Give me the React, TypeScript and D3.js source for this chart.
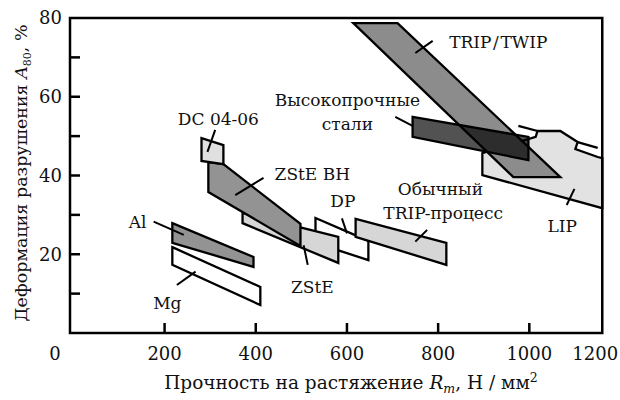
import * as d3 from 'd3';

const W = 620;
const H = 400;
const FONT = '"DejaVu Serif", serif';

// region outlines: [tensile strength Rm, N/mm2; elongation A80, %]
const lip = [[897, 45.7], [1014, 49.8], [1018, 51.3], [1068, 51.3], [1106, 48.5], [1101, 46.7], [1150, 44.7], [1160, 44.4], [1160, 31.7], [897, 40.1]];
const tripTwip = [[614, 78.7], [711, 78.7], [1068, 39.6], [965, 39.6]];
const highStrength = [[744, 54.9], [998, 49.8], [998, 43.9], [744, 49.8]];
const dp = [[531, 29.2], [647, 23.4], [647, 18.5], [531, 22.9]];
const tripProcess = [[619, 29.0], [818, 22.9], [818, 17.3], [619, 24.4]];
const zste = [[371, 30.5], [581, 24.4], [581, 17.8], [371, 27.9]];
const zsteBH = [[296, 43.4], [329, 42.9], [498, 27.7], [498, 22.1], [296, 35.8]];
const dc0406 = [[281, 49.5], [329, 47.7], [329, 42.9], [281, 43.7]];
const al = [[217, 27.9], [395, 19.3], [395, 16.8], [217, 22.9]];
const mg = [[217, 21.8], [410, 11.7], [410, 7.1], [217, 17.3]];

// extra outline strokes on the LIP field
const lipLines = [
  [[976, 52.6], [1018, 51.3]],
  [[1106, 48.5], [1150, 47.0]],
];

const xTicks = [200, 400, 600, 800, 1000];
const xTickLabels = ['0', '200', '400', '600', '800', '1000', '1200'];
const yTicks = [10, 20, 30, 40, 50, 60, 70];
const yTickLabels = ['20', '40', '60', '80'];

// labels: text, anchor [Rm, A80]
const labels = [
  { text: 'TRIP\u200A/\u200ATWIP', at: [932, 72.3] },
  { text: 'Высокопрочные', at: [601, 57.7] },
  { text: 'стали', at: [601, 51.6] },
  { text: 'DC 04-06', at: [318, 52.8] },
  { text: 'ZStE BH', at: [524, 38.9] },
  { text: 'DP', at: [591, 32.0] },
  { text: 'Обычный', at: [805, 35.0] },
  { text: 'TRIP-процесс', at: [811, 29.0] },
  { text: 'LIP', at: [1072, 25.7] },
  { text: 'Al', at: [141, 26.7] },
  { text: 'Mg', at: [206, 6.1] },
  { text: 'ZStE', at: [524, 10.2] },
];
const leaders = [
  [[750, 71.1], [788, 74.2]],
  [[706, 54.9], [744, 52.6]],
  [[311, 51.6], [294, 46.0]],
  [[417, 39.4], [355, 35.0]],
  [[589, 29.1], [600, 25.3]],
  [[776, 26.2], [750, 23.2]],
  [[1099, 36.6], [1082, 32.5]],
  [[176, 28.3], [242, 24.9]],
  [[227, 12.2], [268, 15.6]],
  [[505, 22.3], [514, 17.3]],
];

const regions = [
  { pts: lip, fill: '#e2e2e2', op: 1 },
  { pts: tripTwip, fill: '#8c8c8c', op: 1 },
  { pts: highStrength, fill: '#000', op: 0.68 },
  { pts: dp, fill: '#fff', op: 1 },
  { pts: tripProcess, fill: '#d6d6d6', op: 1 },
  { pts: zste, fill: '#d6d6d6', op: 1 },
  { pts: zsteBH, fill: '#939393', op: 1 },
  { pts: dc0406, fill: '#e0e0e0', op: 1 },
  { pts: al, fill: '#939393', op: 1 },
  { pts: mg, fill: '#fff', op: 1 },
];

export default function App() {
  const x = d3.scaleLinear().domain([0, 1200]).range([73.4, 620.5]);
  const y = d3.scaleLinear().domain([0, 80]).range([333, 18]);
  const left = 70;
  const right = x(1160);
  const top = y(80);
  const bottom = y(0);

  const poly = d3
    .line<number[]>()
    .x(d => x(d[0]))
    .y(d => y(d[1]))
    .curve(d3.curveLinearClosed);
  const seg = d3
    .line<number[]>()
    .x(d => x(d[0]))
    .y(d => y(d[1]));

  // corner labels sit off their ticks, as in the original
  const xLabelPos = (t: string, i: number) => {
    if (i === 0) return left - 15;
    if (i === xTickLabels.length - 1) return right - 7;
    return x(+t);
  };

  return (
    <svg width={W} height={H} style={{ position: 'absolute', left: 0, top: 0, background: '#fff' }} fontFamily={FONT}>
      <rect width={W} height={H} fill="#fff" />
      {regions.map((r, i) => (
        <path
          key={i}
          d={poly(r.pts) || ''}
          fill={r.fill}
          fillOpacity={r.op}
          stroke="#000"
          strokeWidth={2.3}
          strokeLinejoin="miter"
        />
      ))}
      {lipLines.map((l, i) => (
        <path key={i} d={seg(l) || ''} fill="none" stroke="#000" strokeWidth={2.3} />
      ))}
      {leaders.map((l, i) => (
        <path key={i} d={seg(l) || ''} fill="none" stroke="#000" strokeWidth={2} />
      ))}
      {labels.map((lb, i) => (
        <text key={i} x={x(lb.at[0])} y={y(lb.at[1])} textAnchor="middle" fontSize={17} fill="#111">
          {lb.text}
        </text>
      ))}

      <rect x={left} y={top} width={right - left} height={bottom - top} fill="none" stroke="#000" strokeWidth={2.5} />
      {xTicks.map(t => (
        <line key={t} x1={x(t)} x2={x(t)} y1={bottom} y2={bottom - 10} stroke="#000" strokeWidth={2.5} />
      ))}
      {yTicks.map(t => (
        <line key={t} x1={left} x2={left + 10} y1={y(t)} y2={y(t)} stroke="#000" strokeWidth={2.5} />
      ))}
      {xTickLabels.map((t, i) => (
        <text key={t} x={xLabelPos(t, i)} y={360} textAnchor="middle" fontSize={18} fill="#111">
          {t}
        </text>
      ))}
      {yTickLabels.map(t => (
        <text key={t} x={62} y={y(+t)} dy="0.36em" textAnchor="end" fontSize={18} fill="#111">
          {t}
        </text>
      ))}

      <text x={351} y={389} textAnchor="middle" fontSize={18.5} fill="#111">
        Прочность на растяжение <tspan fontStyle="italic">R</tspan>
        <tspan fontStyle="italic" fontSize={12.5} dy={4}>m</tspan>
        <tspan dy={-4}>, Н / мм</tspan>
        <tspan fontSize={12.5} dy={-7}>2</tspan>
      </text>
      <text transform="translate(27,173) rotate(-90)" textAnchor="middle" fontSize={17.5} fill="#111">
        Деформация разрушения <tspan fontStyle="italic">A</tspan>
        <tspan fontSize={11} dy={4}>80</tspan>
        <tspan dy={-4}>, %</tspan>
      </text>
    </svg>
  );
}
